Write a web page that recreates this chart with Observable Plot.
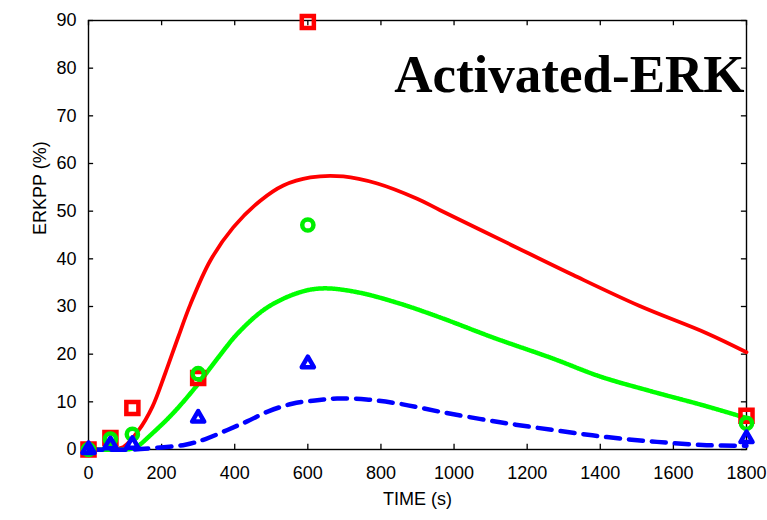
<!DOCTYPE html>
<html>
<head>
<meta charset="utf-8">
<script src="https://cdn.jsdelivr.net/npm/d3@7"></script>
<script src="https://cdn.jsdelivr.net/npm/@observablehq/plot@0.6"></script>
<style>
  body { margin: 0; background: #fff; }
  svg { font-family: "Liberation Sans", Arial, Helvetica, sans-serif; }
</style>
</head>
<body>
<div id="chart"></div>
<script>
// Experimental data (markers)
const expTime = [0, 60, 120, 300, 600, 1800];
const expRed = [0, 2.4, 8.7, 15, 89.7, 7.1];
const expGreen = [0, 2.2, 3.2, 15.9, 47.1, 5.5];
const expBlue = [0, 1.0, 1.1, 6.6, 18, 2.3];

// Model curves
const redT = [0, 60, 95, 137, 175, 210, 245, 279, 333, 396, 470, 533, 607, 697, 790, 899, 962, 1144, 1326, 1508, 1691, 1800];
const redV = [0, 0.1, 0.5, 4, 9, 16, 23.5, 30.5, 39.6, 46.6, 52.2, 55.4, 57.1, 57.3, 55.8, 52.6, 50.2, 43.4, 36.6, 30.1, 24.4, 20.4];

const greenT = [0, 100, 128, 175, 230, 292, 355, 410, 489, 579, 642, 735, 852, 962, 1110, 1270, 1400, 1535, 1680, 1800];
const greenV = [0, 0, 0.4, 3.4, 7.5, 13, 19.3, 24.5, 29.8, 33, 33.8, 33, 30.6, 27.7, 23.4, 19.1, 15.3, 12.3, 9.3, 6.6];

const blueT = [0, 120, 175, 265, 320, 380, 434, 492, 557, 620, 680, 760, 850, 970, 1126, 1280, 1418, 1555, 1691, 1800];
const blueV = [0, 0, 0.3, 1, 2.2, 4.1, 5.9, 8, 9.6, 10.3, 10.7, 10.5, 9.6, 7.8, 5.7, 4.0, 2.6, 1.6, 0.9, 0.8];

const xTicks = [0, 200, 400, 600, 800, 1000, 1200, 1400, 1600, 1800];
const yTicks = [0, 10, 20, 30, 40, 50, 60, 70, 80, 90];
const chartTitle = "Activated-ERK";
const xLabel = "TIME (s)";
const yLabel = "ERKPP (%)";

const zip = (t, v) => t.map((d, i) => ({t: d, v: v[i]}));
const red = zip(redT, redV), green = zip(greenT, greenV), blue = zip(blueT, blueV);
const eR = zip(expTime, expRed), eG = zip(expTime, expGreen), eB = zip(expTime, expBlue);

const chart = Plot.plot({
  width: 767,
  height: 520,
  marginLeft: 88,
  marginRight: 21,
  marginTop: 20,
  marginBottom: 71,
  style: {fontSize: "18px", color: "#000", background: "#fff"},
  x: {domain: [0, 1800]},
  y: {domain: [0, 90]},
  marks: [
    Plot.frame({stroke: "#000", strokeWidth: 1.4}),
    Plot.axisX({ticks: xTicks, tickSize: 0, tickPadding: 17, tickFormat: d3.format("d"), label: null, fontSize: 18}),
    Plot.axisY({ticks: yTicks, tickSize: 0, tickPadding: 12, tickFormat: d3.format("d"), label: null, fontSize: 18}),
    // inward ticks
    Plot.ruleX(xTicks, {x: d => d, y1: 0, y2: 1.1, stroke: "#000", strokeWidth: 1.3}),
    Plot.ruleX(xTicks, {x: d => d, y1: 90, y2: 88.9, stroke: "#000", strokeWidth: 1.3}),
    Plot.ruleY(yTicks, {y: d => d, x1: 0, x2: 14, stroke: "#000", strokeWidth: 1.3}),
    Plot.ruleY(yTicks, {y: d => d, x1: 1800, x2: 1786, stroke: "#000", strokeWidth: 1.3}),
    // model curves
    Plot.line(red, {x: "t", y: "v", stroke: "#ff0000", strokeWidth: 3.8, curve: "catmull-rom"}),
    Plot.line(green, {x: "t", y: "v", stroke: "#00ff00", strokeWidth: 4.5, strokeDasharray: "1.2,1", curve: "catmull-rom"}),
    Plot.line(blue, {x: "t", y: "v", stroke: "#0000ff", strokeWidth: 4.5, strokeDasharray: "14,9", curve: "catmull-rom"}),
    // experimental markers
    Plot.dot(eR, {x: "t", y: "v", symbol: "square", r: 6.8, stroke: "#ff0000", strokeWidth: 4.5, fill: "none", strokeLinejoin: "miter"}),
    Plot.dot(eG, {x: "t", y: "v", symbol: "circle", r: 5.6, stroke: "#00ee00", strokeWidth: 4.5, fill: "none"}),
    Plot.dot(eB, {x: "t", y: "v", symbol: "triangle", r: 4.5, stroke: "#0000ff", strokeWidth: 4.5, fill: "none", strokeLinejoin: "round"}),
    // labels
    Plot.text([yLabel], {frameAnchor: "left", dx: -48, rotate: -90, fontSize: 18, fill: "#000"}),
    Plot.text([xLabel], {frameAnchor: "bottom", dy: 55, fontSize: 18, fill: "#000"}),
    Plot.text([chartTitle], {frameAnchor: "top-right", dx: -2, dy: 34, textAnchor: "end", fontSize: 53, fontWeight: "bold", fontFamily: "Liberation Serif, Times New Roman, serif", fill: "#000"})
  ]
});
document.getElementById("chart").appendChild(chart);
</script>
</body>
</html>
